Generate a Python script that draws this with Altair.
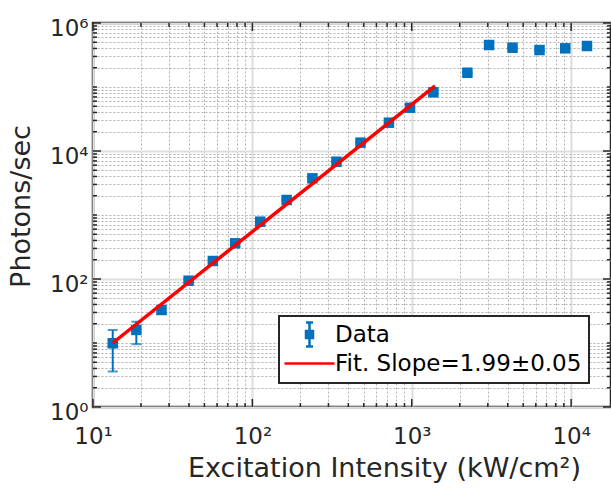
import altair as alt
import pandas as pd

# ---- data ----
intensity = [13.3, 18.7, 26.9, 39.8, 56.5, 78, 112, 164, 238, 337, 477, 719, 975,
             1366, 2233, 3056, 4285, 6330, 9180, 12570]
photons = [9.9, 16, 32.8, 94, 191, 361, 786, 1715, 3740, 6800, 13500, 27700, 47500,
           82600, 167000, 453000, 411000, 378000, 402000, 437000]
err_lo = [3.6, 9.6, 28.5, 88, 182, 345, 760, 1660, 3630, 6600, 13100, 26900, 46100,
          80200, 162000, 440000, 399000, 367000, 390000, 424000]
err_hi = [16, 21.5, 37.5, 100, 200, 377, 812, 1770, 3850, 7000, 13900, 28500, 48900,
          85000, 172000, 466000, 423000, 389000, 414000, 450000]
fit_x = [13.3, 1400]
fit_y = [10, 104000]

data_label = "Data"
fit_label = "Fit. Slope=1.99\u00b10.05"
series = [data_label, fit_label]

x_decades = [10, 100, 1000, 10000]
y_decades = [1, 10, 100, 1000, 10000, 100000]
mantissas = [1, 2, 3, 4, 5, 6, 7, 8, 9]
x_max = 17783
y_major = [1, 100, 10000, 1000000]

x_ticks = [m * d for d in x_decades for m in mantissas if m * d <= x_max]
y_ticks = [m * d for d in y_decades for m in mantissas] + [1000000]

BLUE = "#0072BD"
RED = "#FF0000"
FONT = "DejaVu Sans"
W, H = 518, 384

pts = pd.DataFrame({"x": intensity, "y": photons, "lo": err_lo, "hi": err_hi})
caps = pd.concat([pd.DataFrame({"x": intensity, "y": err_lo}),
                  pd.DataFrame({"x": intensity, "y": err_hi})])
fit = pd.DataFrame({"x": fit_x, "y": fit_y})
keydf = pd.DataFrame({"x": [100, 100], "y": [100, 100], "series": series})
xt = pd.DataFrame({"x": x_ticks, "major": [v in x_decades for v in x_ticks]})
yt = pd.DataFrame({"y": y_ticks, "major": [v in y_major for v in y_ticks]})

xscale = alt.Scale(type="log", domain=[10, x_max], nice=False)
yscale = alt.Scale(type="log", domain=[1, 1000000], nice=False)

x_major_test = "datum.value == 10 || datum.value == 100 || datum.value == 1000 || datum.value == 10000"
y_major_test = "datum.value == 1 || datum.value == 100 || datum.value == 10000 || datum.value == 1000000"

x_axis = alt.Axis(
    values=x_ticks, title="Excitation Intensity (kW/cm\u00b2)",
    labelExpr="datum.value == 10 ? '10\u00b9' : datum.value == 100 ? '10\u00b2' : datum.value == 1000 ? '10\u00b3' : datum.value == 10000 ? '10\u2074' : ''",
    labelFlush=False, labelOverlap=False, labelBound=False,
    tickSize=0, domain=False, labelPadding=18,
    labelFontSize=23, titleFontSize=27,
    titleX=291, titleY=69, titleBaseline="alphabetic", titleAlign="center",
    gridColor={"condition": {"test": x_major_test, "value": "#dedede"}, "value": "#b0b0b0"},
    gridDash={"condition": {"test": x_major_test, "value": []}, "value": [2, 2]},
    gridWidth={"condition": {"test": x_major_test, "value": 2}, "value": 1},
)
y_axis = alt.Axis(
    values=y_ticks, title="Photons/sec",
    labelExpr="datum.value == 1 ? '10\u2070' : datum.value == 100 ? '10\u00b2' : datum.value == 10000 ? '10\u2074' : datum.value == 1000000 ? '10\u2076' : ''",
    labelFlush=False, labelOverlap=False, labelBound=False,
    tickSize=0, domain=False, labelPadding=5, labelBaseline="middle", labelOffset=5,
    labelFontSize=23, titleFontSize=27,
    titleX=-58, titleY=183, titleAlign="center", titleBaseline="bottom",
    gridColor={"condition": {"test": y_major_test, "value": "#dedede"}, "value": "#b0b0b0"},
    gridDash={"condition": {"test": y_major_test, "value": []}, "value": [2, 2]},
    gridWidth={"condition": {"test": y_major_test, "value": 2}, "value": 1},
)

X = alt.X("x:Q", scale=xscale, axis=x_axis)
Y = alt.Y("y:Q", scale=yscale, axis=y_axis)

errbar_path = ("M0,-1.2V1.2M-0.35,-1.2H0.35M-0.35,1.2H0.35"
               "M-0.35,-0.35H0.35V0.35H-0.35ZM-0.12,-0.12H0.12V0.12H-0.12Z")
line_path = "M-2.5,0H2.5"

legend = alt.Legend(
    orient="none", legendX=186, legendY=293, title=None,
    labelFontSize=23, labelFont=FONT, labelColor="#000000", labelLimit=600,
    symbolSize=400, symbolOffset=12, labelOffset=14, padding=7, rowPadding=0,
    symbolStrokeWidth=2.5, symbolOpacity=1,
    fillColor="#ffffff", strokeColor="#262626",
)
C = alt.Color("series:N", scale=alt.Scale(domain=series, range=[BLUE, RED]), legend=legend)
S = alt.Shape("series:N", scale=alt.Scale(domain=series, range=[errbar_path, line_path]), legend=legend)

bars = alt.Chart(pts).mark_rule(color=BLUE, strokeWidth=2).encode(
    x=X, y=alt.Y("lo:Q", scale=yscale, axis=y_axis), y2="hi:Q")
capmarks = alt.Chart(caps).mark_tick(color=BLUE, orient="horizontal", size=10, thickness=2).encode(x=X, y=Y)
points = alt.Chart(pts).mark_square(size=110, opacity=1, filled=True, color=BLUE).encode(x=X, y=Y)
line = alt.Chart(fit).mark_line(strokeWidth=3.5, color=RED).encode(x=X, y=Y)
key = alt.Chart(keydf).mark_point(filled=False, opacity=0, strokeWidth=2.5).encode(
    x=X, y=Y, color=C, shape=S)

tick_col = "#262626"
tick_layers = []
for is_major, ln in [(True, 8), (False, 4)]:
    flt = "datum.major" if is_major else "!datum.major"
    base_x = alt.Chart(xt).transform_filter(flt).mark_rule(color=tick_col, strokeWidth=1.5)
    base_y = alt.Chart(yt).transform_filter(flt).mark_rule(color=tick_col, strokeWidth=1.5)
    tick_layers += [
        base_x.encode(x=X, y=alt.value(H), y2=alt.value(H - ln)),
        base_x.encode(x=X, y=alt.value(0), y2=alt.value(ln)),
        base_y.encode(y=Y, x=alt.value(0), x2=alt.value(ln)),
        base_y.encode(y=Y, x=alt.value(W), x2=alt.value(W - ln)),
    ]

chart = alt.layer(bars, capmarks, points, line, key, *tick_layers).properties(
    width=W, height=H,
    autosize=alt.AutoSizeParams(type="none"),
    padding={"left": 93, "top": 23, "right": 0, "bottom": 82},
    background="#ffffff",
).configure_view(stroke="#262626", strokeWidth=2.5).configure_axis(
    labelFont=FONT, titleFont=FONT, labelColor="#262626", titleColor="#262626",
    titleFontWeight="normal",
).configure_legend(strokeWidth=2)

chart.save("out.html", embed_options={"renderer": "svg", "actions": False})
